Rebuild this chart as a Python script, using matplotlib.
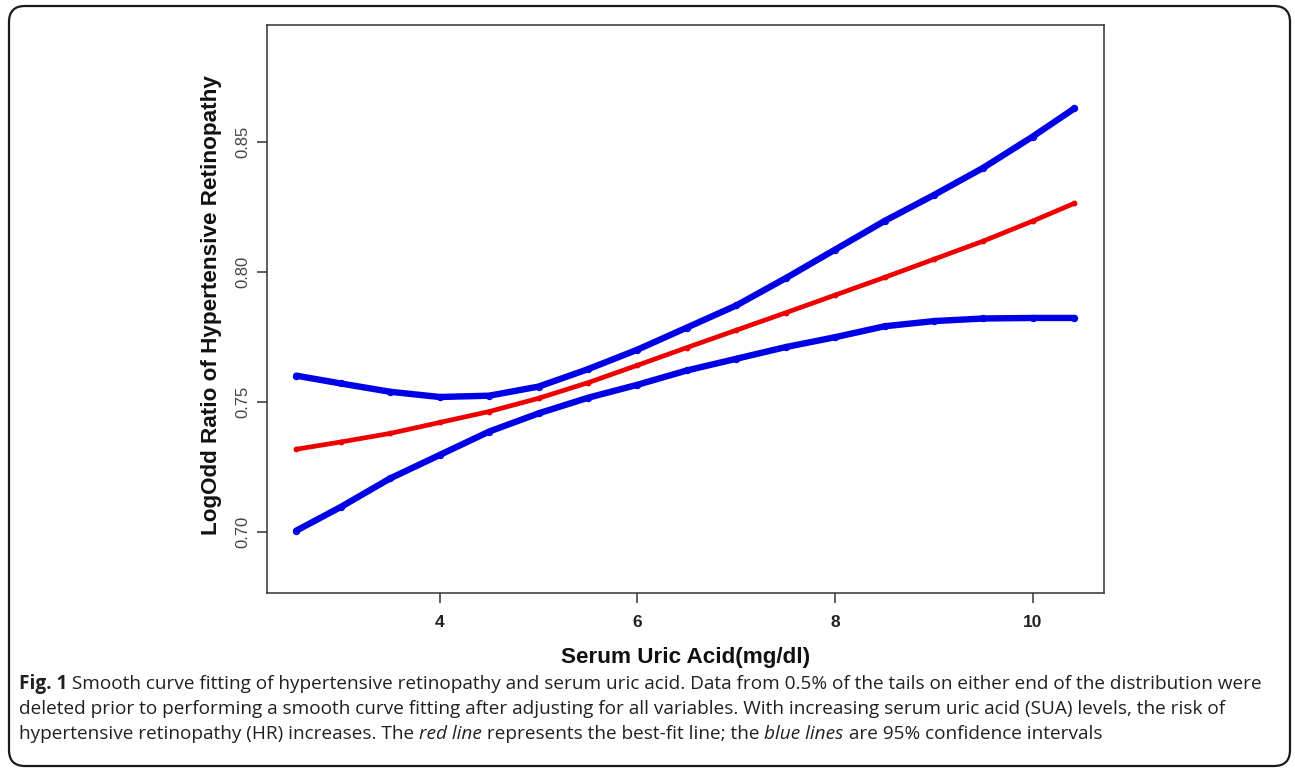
import matplotlib
matplotlib.use("Agg")
import matplotlib.pyplot as plt
from matplotlib.patches import FancyBboxPatch
from matplotlib.transforms import IdentityTransform

# serum uric acid (mg/dl)
sua = [2.55, 3.0, 3.5, 4.0, 4.5, 5.0, 5.5, 6.0, 6.5, 7.0, 7.5, 8.0, 8.5, 9.0, 9.5, 10.0, 10.42]
fit = [0.7317, 0.7345, 0.7378, 0.7420, 0.7462, 0.7513, 0.7573, 0.7640, 0.7708,
       0.7775, 0.7842, 0.7910, 0.7978, 0.8048, 0.8118, 0.8195, 0.8263]
upper = [0.7600, 0.7570, 0.7538, 0.7518, 0.7523, 0.7558, 0.7625, 0.7700, 0.7785,
         0.7870, 0.7975, 0.8085, 0.8195, 0.8295, 0.8400, 0.8520, 0.8628]
lower = [0.7004, 0.7095, 0.7205, 0.7295, 0.7385, 0.7455, 0.7515, 0.7565, 0.7620,
         0.7665, 0.7710, 0.7748, 0.7790, 0.7810, 0.7820, 0.7822, 0.7822]

x_ticks = [4, 6, 8, 10]
y_ticks = [0.70, 0.75, 0.80, 0.85]
y_tick_labels = ["0.70", "0.75", "0.80", "0.85"]

W, H = 1295, 770
fig = plt.figure(figsize=(W / 100, H / 100), dpi=100)
fig.patch.set_facecolor("white")

# rounded frame round the whole figure
frame = FancyBboxPatch((9, 4), 1281, 760, boxstyle="round,pad=0,rounding_size=16",
                       transform=IdentityTransform(), fill=False, edgecolor="#1a1a1a", lw=1.6)
fig.add_artist(frame)

ax = fig.add_axes([266.7 / W, 1 - 593 / H, (1104 - 266.7) / W, (593 - 25) / H])

blue = "#0000e6"
red = "#ee0000"
for ys in (upper, lower):
    ax.plot(sua, ys, color=blue, lw=4.6, solid_capstyle="round", zorder=2)
    ax.plot(sua, ys, ls="none", marker="o", ms=4.2, mfc="none", mec=blue, mew=1.1, zorder=3)
ax.plot(sua, fit, color=red, lw=3.4, solid_capstyle="round", zorder=2)
ax.plot(sua, fit, ls="none", marker="o", ms=3.2, mfc=red, mec=red, zorder=3)

ax.set_xlim(2.25, 10.72)
ax.set_ylim(0.6764, 0.8949)
ax.set_xticks(x_ticks)
ax.set_xticklabels([str(t) for t in x_ticks], fontfamily="Liberation Sans",
                   fontweight="bold", fontsize=12.5, color="#222222")
ax.set_yticks(y_ticks)
ax.set_yticklabels(y_tick_labels, rotation=90, va="center", fontfamily="Liberation Sans",
                   fontsize=12, color="#444444")
ax.tick_params(axis="x", length=7, width=1.1, color="#333333", pad=9)
ax.tick_params(axis="y", length=7, width=1.1, color="#333333", pad=5)
for sp in ax.spines.values():
    sp.set_color("#333333")
    sp.set_linewidth(1.1)

ax.text(0.5, -0.1127, "Serum Uric Acid(mg/dl)", transform=ax.transAxes, ha="center",
        va="center", fontfamily="Liberation Sans", fontweight="bold", fontsize=16.2, color="#111111")
ax.text(-0.066, 0.507, "LogOdd Ratio of Hypertensive Retinopathy", transform=ax.transAxes,
        ha="center", va="center", rotation=90, fontfamily="Liberation Sans",
        fontweight="bold", fontsize=16.2, color="#111111")

# caption, written piece by piece so bold and italic parts sit inline
caption = [
    [("Fig. 1", "normal", "bold"),
     (" Smooth curve fitting of hypertensive retinopathy and serum uric acid. Data from 0.5% of the tails on either end of the distribution were", "normal", "normal")],
    [("deleted prior to performing a smooth curve fitting after adjusting for all variables. With increasing serum uric acid (SUA) levels, the risk of", "normal", "normal")],
    [("hypertensive retinopathy (HR) increases. The ", "normal", "normal"),
     ("red line", "italic", "normal"),
     (" represents the best-fit line; the ", "normal", "normal"),
     ("blue lines", "italic", "normal"),
     (" are 95% confidence intervals", "normal", "normal")],
]
line_y = [684, 709, 734]
renderer = fig.canvas.get_renderer()
for segs, yp in zip(caption, line_y):
    xp = 19
    for txt, style, weight in segs:
        t = fig.text(xp / W, 1 - yp / H, txt, ha="left", va="center", fontfamily="Open Sans",
                     fontstyle=style, fontweight=weight, fontsize=13.7, color="#231f20")
        xp += t.get_window_extent(renderer).width

fig.savefig("out.png", dpi=100, facecolor="white")
